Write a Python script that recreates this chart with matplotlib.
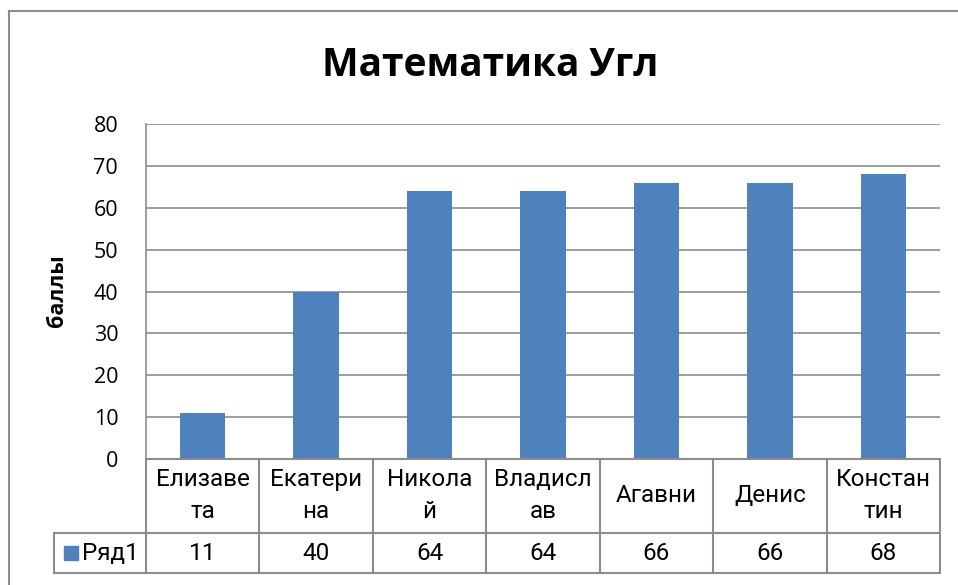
import matplotlib
matplotlib.use("Agg")
import matplotlib.pyplot as plt
from matplotlib.patches import Rectangle
from matplotlib.lines import Line2D

plt.rcParams['font.family'] = ['Open Sans', 'DejaVu Sans']

title = "Математика Угл"
ylabel = "баллы"
series_name = "Ряд1"
categories = ["Елизаве\nта", "Екатери\nна", "Никола\nй", "Владисл\nав", "Агавни", "Денис", "Констан\nтин"]
values = [11, 40, 64, 64, 66, 66, 68]
yticks = [0, 10, 20, 30, 40, 50, 60, 70, 80]

bar_color = "#4F81BD"
line_color = "#8C8C8C"

W, H = 958, 585
fig = plt.figure(figsize=(W / 100, H / 100), dpi=100)

def fx(px):
    return px / W

def fy(py):
    return 1 - py / H

# outer chart border
fig.add_artist(Line2D([fx(8.5), fx(8.5)], [fy(10.5), fy(585)], color=line_color, lw=1.5))
fig.add_artist(Line2D([fx(8.5), fx(958)], [fy(10.5), fy(10.5)], color=line_color, lw=1.5))

left, right, top, bottom = 146, 940, 124, 459
ax = fig.add_axes([fx(left), fy(bottom), fx(right - left), fy(top) - fy(bottom)])

n = len(categories)
x = list(range(n))
ax.bar(x, values, width=0.4, color=bar_color, zorder=3)
ax.set_xlim(-0.5, n - 0.5)
ax.set_ylim(0, 80)
ax.set_yticks(yticks)
ax.set_xticks([])
ax.tick_params(axis='y', length=0, pad=20, labelsize=15.5, colors='black')
ax.grid(axis='y', color=line_color, lw=1.2, zorder=0)
for s in ['top', 'right', 'bottom']:
    ax.spines[s].set_visible(False)
ax.spines['left'].set_color(line_color)
ax.spines['left'].set_linewidth(1.2)

fig.text(fx(490), fy(66), title, ha='center', va='center', fontsize=28, fontweight='bold')
fig.text(fx(58), fy(291), ylabel, ha='center', va='center', rotation=90, fontsize=15.5, fontweight='bold')

# data table
row1_bot = 532.5
row2_bot = 573
leg_left = 54
colw = (right - left) / n
lw = 1.5
fig.add_artist(Line2D([fx(left), fx(right)], [fy(bottom), fy(bottom)], color=line_color, lw=lw))
fig.add_artist(Line2D([fx(leg_left), fx(right)], [fy(row1_bot), fy(row1_bot)], color=line_color, lw=lw))
fig.add_artist(Line2D([fx(leg_left), fx(right)], [fy(row2_bot), fy(row2_bot)], color=line_color, lw=lw))
fig.add_artist(Line2D([fx(leg_left), fx(leg_left)], [fy(row1_bot), fy(row2_bot)], color=line_color, lw=lw))
for k in range(n + 1):
    xx = left + k * colw
    fig.add_artist(Line2D([fx(xx), fx(xx)], [fy(bottom), fy(row2_bot)], color=line_color, lw=lw))

fs = 17.5
tfam = ['Roboto', 'DejaVu Sans']
for i, (c, v) in enumerate(zip(categories, values)):
    cx = left + (i + 0.5) * colw
    fig.text(fx(cx), fy((bottom + row1_bot) / 2), c, ha='center', va='center',
             fontsize=fs, linespacing=1.5, family=tfam)
    fig.text(fx(cx), fy((row1_bot + row2_bot) / 2 + 1), str(v), ha='center', va='center',
             fontsize=fs, family=tfam)

# legend key
fig.add_artist(Rectangle((fx(64), fy(560)), fx(14), fy(546) - fy(560), color=bar_color))
fig.text(fx(82), fy((row1_bot + row2_bot) / 2 + 1), series_name, ha='left', va='center',
         fontsize=fs, family=tfam)

fig.savefig("out.png", dpi=100)
